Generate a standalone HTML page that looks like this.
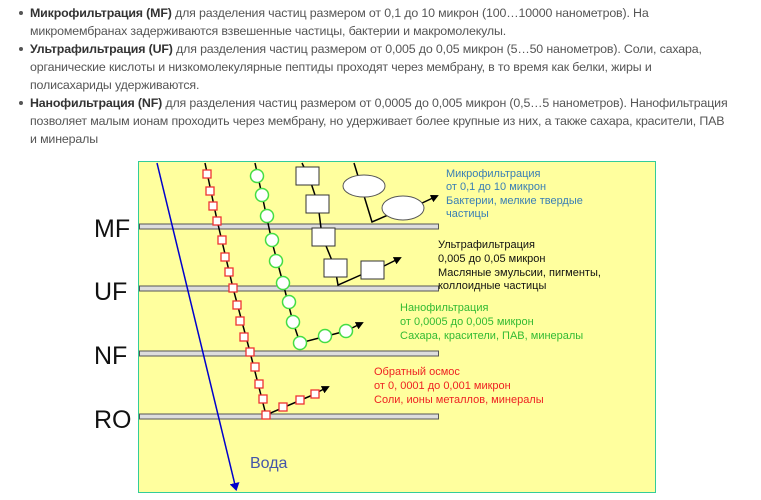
<!DOCTYPE html>
<html><head><meta charset="utf-8"><style>
body{margin:0;width:761px;height:500px;background:#fff;overflow:hidden;font-family:"Liberation Sans",sans-serif;}
.t{position:absolute;left:30px;top:4px;width:740px;font-size:12.4px;letter-spacing:-0.15px;line-height:18px;color:#555;white-space:nowrap}
.t p{margin:0;position:relative}
.t p:before{content:"";position:absolute;left:-11px;top:7px;width:4px;height:4px;border-radius:50%;background:#555}
.t b{color:#333}
svg{position:absolute;left:0;top:0}
</style></head><body>
<div class="t">
<p><b>Микрофильтрация (MF)</b> для разделения частиц размером от 0,1 до 10 микрон (100…10000 нанометров). На<br>микромембранах задерживаются взвешенные частицы, бактерии и макромолекулы.</p>
<p><b>Ультрафильтрация (UF)</b> для разделения частиц размером от 0,005 до 0,05 микрон (5…50 нанометров). Соли, сахара,<br>органические кислоты и низкомолекулярные пептиды проходят через мембрану, в то время как белки, жиры и<br>полисахариды удерживаются.</p>
<p><b>Нанофильтрация (NF)</b> для разделения частиц размером от 0,0005 до 0,005 микрон (0,5…5 нанометров). Нанофильтрация<br>позволяет малым ионам проходить через мембрану, но удерживает более крупные из них, а также сахара, красители, ПАВ<br>и минералы</p>
</div>
<svg width="761" height="500" font-family="Liberation Sans, sans-serif">
<defs><marker id="a" markerWidth="8" markerHeight="8" refX="6" refY="4" orient="auto" markerUnits="userSpaceOnUse"><path d="M0,0L8,4L0,8z" fill="#000"/></marker>
<marker id="b" markerWidth="8" markerHeight="10" refX="6" refY="5" orient="auto" markerUnits="userSpaceOnUse"><path d="M0,0L8,5L0,10z" fill="#00c"/></marker></defs>
<rect x="138.5" y="161.5" width="517" height="331" fill="#ffff9e" stroke="#3c9" stroke-width="1"/>
<g fill="#ddd" stroke="#555" stroke-width="1">
<rect x="139.5" y="224" width="299" height="5"/><rect x="139.5" y="286" width="299" height="5"/>
<rect x="139.5" y="351" width="299" height="5"/><rect x="139.5" y="414" width="299" height="5"/></g>
<g font-size="25" fill="#111"><text x="94" y="237">MF</text><text x="94" y="300">UF</text><text x="94" y="364">NF</text><text x="94" y="428">RO</text></g>
<line x1="157" y1="163" x2="236" y2="489" stroke="#00c" stroke-width="1.5" marker-end="url(#b)"/>
<text x="250" y="468" font-size="16" fill="#4455aa">Вода</text>
<polyline points="302,163 310,180 318,204 322,236 335,268 338,285 372,270" fill="none" stroke="#000" stroke-width="1.5"/>
<line x1="384" y1="266" x2="400" y2="258" stroke="#000" stroke-width="1.5" marker-end="url(#a)"/>
<g fill="#fff" stroke="#333"><rect x="296" y="167" width="23" height="18"/><rect x="306" y="195" width="23" height="18"/><rect x="312" y="228" width="23" height="18"/><rect x="324" y="259" width="23" height="18"/><rect x="361" y="261" width="23" height="18"/></g>
<polyline points="354,163 372,222 395,212" fill="none" stroke="#000" stroke-width="1.5"/>
<line x1="420" y1="204" x2="437" y2="196" stroke="#000" stroke-width="1.5" marker-end="url(#a)"/>
<g fill="#fff" stroke="#555"><ellipse cx="364" cy="186" rx="21" ry="11"/><ellipse cx="403" cy="208" rx="21" ry="12"/></g>
<polyline points="255,163 262,195 272,242 283,283 293,322 300,343 346,331" fill="none" stroke="#000" stroke-width="1.5"/>
<line x1="350" y1="329" x2="362" y2="323" stroke="#000" stroke-width="1.5" marker-end="url(#a)"/>
<g fill="#fff" stroke="#4d4" stroke-width="1.5"><circle cx="257" cy="176" r="6.5"/><circle cx="262" cy="195" r="6.5"/><circle cx="267" cy="216" r="6.5"/><circle cx="272" cy="240" r="6.5"/><circle cx="276" cy="261" r="6.5"/><circle cx="283" cy="283" r="6.5"/><circle cx="289" cy="302" r="6.5"/><circle cx="293" cy="322" r="6.5"/><circle cx="300" cy="343" r="6.5"/><circle cx="325" cy="336" r="6.5"/><circle cx="346" cy="331" r="6.5"/></g>
<polyline points="205,163 217,220 233,288 250,352 266,415 315,394" fill="none" stroke="#000" stroke-width="1.5"/>
<line x1="318" y1="392" x2="328" y2="387" stroke="#000" stroke-width="1.5" marker-end="url(#a)"/>
<g fill="#fff" stroke="#e33" stroke-width="1.3">
<rect x="203" y="170" width="8" height="8"/><rect x="206" y="187" width="8" height="8"/><rect x="209" y="202" width="8" height="8"/><rect x="213" y="217" width="8" height="8"/><rect x="218" y="236" width="8" height="8"/><rect x="221" y="253" width="8" height="8"/><rect x="225" y="268" width="8" height="8"/><rect x="229" y="284" width="8" height="8"/><rect x="233" y="301" width="8" height="8"/><rect x="236" y="317" width="8" height="8"/><rect x="240" y="333" width="8" height="8"/><rect x="246" y="348" width="8" height="8"/><rect x="251" y="363" width="8" height="8"/><rect x="255" y="380" width="8" height="8"/><rect x="259" y="395" width="8" height="8"/><rect x="262" y="411" width="8" height="8"/><rect x="279" y="403" width="8" height="8"/><rect x="296" y="396" width="8" height="8"/><rect x="311" y="390" width="8" height="8"/></g>
<g font-size="11">
<g fill="#3a7fb5"><text x="446" y="177">Микрофильтрация</text><text x="446" y="190">от 0,1 до 10 микрон</text><text x="446" y="204">Бактерии, мелкие твердые</text><text x="446" y="217">частицы</text></g>
<g fill="#111"><text x="438" y="248">Ультрафильтрация</text><text x="438" y="262">0,005 до 0,05 микрон</text><text x="438" y="276">Масляные эмульсии, пигменты,</text><text x="438" y="289">коллоидные частицы</text></g>
<g fill="#3b3"><text x="400" y="311">Нанофильтрация</text><text x="400" y="325">от 0,0005 до 0,005 микрон</text><text x="400" y="339">Сахара, красители, ПАВ, минералы</text></g>
<g fill="#e22"><text x="374" y="375">Обратный осмос</text><text x="374" y="389">от 0, 0001 до 0,001 микрон</text><text x="374" y="403">Соли, ионы металлов, минералы</text></g>
</g>
</svg>
</body></html>
